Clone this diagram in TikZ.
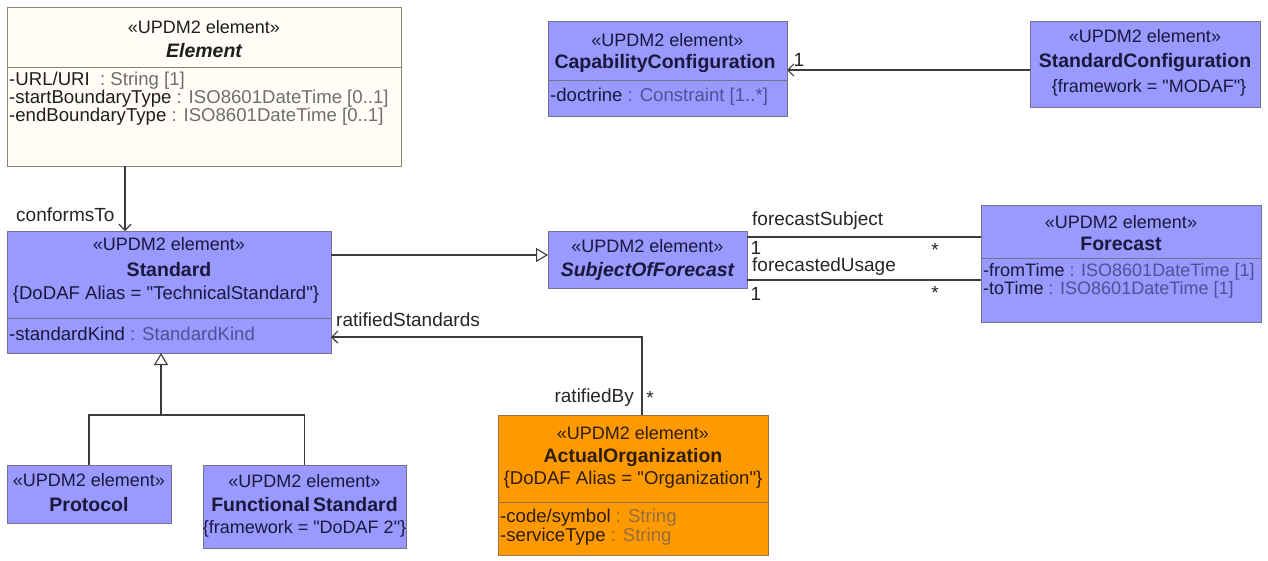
\documentclass[tikz,border=0pt]{standalone}
\usepackage{fontspec}
\setmainfont{Liberation Sans}[Ligatures=TeXOff]
\usetikzlibrary{arrows.meta,calc}
\definecolor{umlpurple}{RGB}{153,153,255}
\definecolor{umlorange}{RGB}{255,153,0}
\definecolor{elemfill}{RGB}{255,253,245}
\definecolor{pborder}{RGB}{115,115,140}
\definecolor{oborder}{RGB}{150,115,70}
\definecolor{eborder}{RGB}{140,130,115}
\definecolor{ptext}{RGB}{25,25,60}
\definecolor{ptype}{RGB}{80,80,150}
\definecolor{otext}{RGB}{45,30,15}
\definecolor{otype}{RGB}{150,110,60}
\definecolor{etext}{RGB}{30,30,30}
\definecolor{etype}{RGB}{110,110,110}
\definecolor{linecol}{RGB}{60,60,60}
\begin{document}
\begin{tikzpicture}[x=1pt,y=-1pt,
 umlbox/.style={draw, line width=1pt, anchor=north west, inner sep=0pt, outer sep=0pt},
 pbox/.style={umlbox, draw=pborder, fill=umlpurple},
 obox/.style={umlbox, draw=oborder, fill=umlorange},
 ebox/.style={umlbox, draw=eborder, fill=elemfill},
 lbl/.style={inner sep=0pt, font=\fontsize{18}{20}\selectfont},
 pt/.style={lbl, text=ptext},
 ot/.style={lbl, text=otext},
 et/.style={lbl, text=etext},
 bold/.style={font=\fontsize{19.5}{21}\selectfont\bfseries},
 bolditalic/.style={font=\fontsize{19.5}{21}\selectfont\bfseries\itshape},
 attr/.style={anchor=west},
 wide/.style={font=\fontsize{18.6}{20}\selectfont},
 clabel/.style={inner sep=0pt, font=\fontsize{19}{21}\selectfont, text=black!85},
 conn/.style={draw=linecol, line width=1.1pt},
 assocarrow/.style={conn, -{Straight Barb[length=6pt,width=12pt]}},
 genarrow/.style={conn, -{Triangle[open, length=12pt, width=14pt, fill=white]}},
]
\useasboundingbox[fill=white] (0,0) rectangle (1268,560);

% ---------- Element ----------
\node[ebox, minimum width=394pt, minimum height=159pt] (elem) at (7,7) {};
\draw[eborder, line width=1pt] ($(elem.north west)+(0,60)$) -- ($(elem.north east)+(0,60)$);
\node[et] (elemS) at (204,27) {«UPDM2 element»};
\node[et, bolditalic] (elemN) at (204,51) {Element};
\node[et, attr, wide] (elemA1) at (9,81) {-URL/URI\ \ \textcolor{etype}{: String [1]}};
\node[et, attr, wide] (elemA2) at (9,99) {-startBoundaryType \textcolor{etype}{: ISO8601DateTime [0..1]}};
\node[et, attr, wide] (elemA3) at (9,117) {-endBoundaryType \textcolor{etype}{: ISO8601DateTime [0..1]}};

% ---------- Standard ----------
\node[pbox, minimum width=324pt, minimum height=122pt] (std) at (7,231) {};
\draw[pborder, line width=1pt] ($(std.north west)+(0,87)$) -- ($(std.north east)+(0,87)$);
\node[pt] (stdS) at (169,244) {«UPDM2 element»};
\node[pt, bold] (stdN) at (169,270) {Standard};
\node[pt, wide] (stdC) at (166,295) {\{DoDAF Alias = "TechnicalStandard"\}};
\node[pt, attr, wide] (stdA1) at (9,334) {-standardKind \textcolor{ptype}{: StandardKind}};

% ---------- Protocol ----------
\node[pbox, minimum width=164pt, minimum height=58pt] (prot) at (7,465) {};
\node[pt] (protS) at (89,480) {«UPDM2 element»};
\node[pt, bold] (protN) at (89,505) {Protocol};

% ---------- FunctionalStandard ----------
\node[pbox, minimum width=203pt, minimum height=83pt] (fs) at (203,465) {};
\node[pt] (fsS) at (304.5,481) {«UPDM2 element»};
\node[pt, bold] (fsN) at (304.5,505) {Functional\,Standard};
\node[pt] (fsC) at (304.5,529) {\{framework = "DoDAF 2"\}};

% ---------- SubjectOfForecast ----------
\node[pbox, minimum width=199pt, minimum height=57pt] (sof) at (548,231) {};
\node[pt] (sofS) at (647.5,246) {«UPDM2 element»};
\node[pt, bolditalic] (sofN) at (647.5,271) {SubjectOfForecast};

% ---------- Forecast ----------
\node[pbox, minimum width=280pt, minimum height=117pt] (fc) at (981,205) {};
\draw[pborder, line width=1pt] ($(fc.north west)+(0,53)$) -- ($(fc.north east)+(0,53)$);
\node[pt] (fcS) at (1121,222) {«UPDM2 element»};
\node[pt, bold] (fcN) at (1121,244) {Forecast};
\node[pt, attr] (fcA1) at (983,272) {-fromTime \textcolor{ptype}{: ISO8601DateTime [1]}};
\node[pt, attr] (fcA2) at (983,290) {-toTime \textcolor{ptype}{: ISO8601DateTime [1]}};

% ---------- CapabilityConfiguration ----------
\node[pbox, minimum width=239pt, minimum height=95pt] (cap) at (548,21) {};
\draw[pborder, line width=1pt] ($(cap.north west)+(0,59)$) -- ($(cap.north east)+(0,59)$);
\node[pt] (capS) at (667.5,40) {«UPDM2 element»};
\node[pt, bold] (capN) at (665,63) {CapabilityConfiguration};
\node[pt, attr, wide] (capA1) at (550,97) {-doctrine \textcolor{ptype}{: Constraint [1..*]}};

% ---------- StandardConfiguration ----------
\node[pbox, minimum width=230pt, minimum height=86pt] (scfg) at (1030,21) {};
\node[pt] (scfgS) at (1145,36) {«UPDM2 element»};
\node[pt, bold] (scfgN) at (1145,62) {StandardConfiguration};
\node[pt] (scfgC) at (1149,88) {\{framework = "MODAF"\}};

% ---------- ActualOrganization ----------
\node[obox, minimum width=270pt, minimum height=140pt] (org) at (498,415) {};
\draw[oborder, line width=1pt] ($(org.north west)+(0,87)$) -- ($(org.north east)+(0,87)$);
\node[ot] (orgS) at (633,433) {«UPDM2 element»};
\node[ot, bold] (orgN) at (633,457) {ActualOrganization};
\node[ot, wide] (orgC) at (633,480) {\{DoDAF Alias = "Organization"\}};
\node[ot, attr, wide] (orgA1) at (500,518) {-code/symbol \textcolor{otype}{: String}};
\node[ot, attr, wide] (orgA2) at (500,537) {-serviceType \textcolor{otype}{: String}};

% ---------- Connectors ----------
% conformsTo
\draw[assocarrow] (elem.south -| 125,0) -- (std.north -| 125,0);
\node[clabel, anchor=west] (lconf) at (16,215) {conformsTo};

% generalization tree
\coordinate (junc) at (161,415);
\draw[conn] (prot.north) |- (junc);
\draw[conn] (fs.north) |- (junc);
\draw[genarrow] (junc) -- (junc |- std.south);

% Standard -> SubjectOfForecast
\draw[genarrow] ($(std.north east)+(0,24)$) -- ($(sof.north west)+(0,24)$);

% StandardConfiguration -> CapabilityConfiguration
\draw[assocarrow] ($(scfg.north west)+(0,49)$) -- ($(cap.north east)+(0,49)$);
\node[clabel] (lcap1) at (799,60) {1};

% SubjectOfForecast -- Forecast
\draw[conn] ($(sof.north east)+(0,6)$) -- ($(fc.north west)+(0,32)$);
\draw[conn] ($(sof.south east)+(0,-8)$) -- ($(fc.north west)+(0,75)$);
\node[clabel, anchor=west] (lfs) at (752,221) {forecastSubject};
\node[clabel] (lfs1) at (756,248) {1};
\node[clabel] (lfs2) at (935,250) {*};
\node[clabel, anchor=west] (lfu) at (752,267) {forecastedUsage};
\node[clabel] (lfu1) at (756,294) {1};
\node[clabel] (lfu2) at (935,293) {*};

% ratifiedStandards / ratifiedBy
\coordinate (ratbend) at (642,337);
\draw[assocarrow] (ratbend |- org.north) -- (ratbend) -- (ratbend -| std.east);
\node[clabel, anchor=west] (lrs) at (336,320) {ratifiedStandards};
\node[clabel, anchor=east] (lrb) at (634,398) {ratifiedBy};
\node[clabel] (lrb2) at (650,398) {*};
\end{tikzpicture}
\end{document}
